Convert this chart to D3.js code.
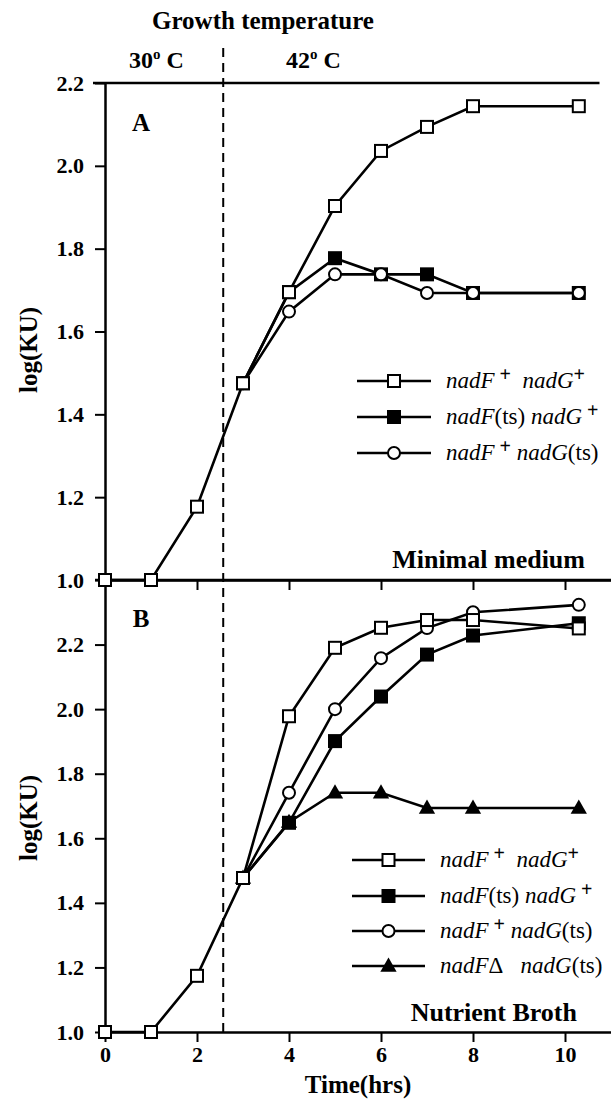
<!DOCTYPE html>
<html>
<head>
<meta charset="utf-8">
<script src="https://cdn.jsdelivr.net/npm/d3@7"></script>
<style>
  body { margin: 0; background: #fff; }
  text { font-family: "Liberation Serif", "Times New Roman", serif; fill: #000; }
</style>
</head>
<body>
<script>
    //Global variables
        const width = 611;
        const height = 1101;

    //Data: times and log(KU) values
        const hoursAll = [0, 1, 2, 3, 4, 5, 6, 7, 8, 10.3];
        const hoursLate = [3, 4, 5, 6, 7, 8, 10.3];

        //Panel A, minimal medium
        const minWild = [1.0, 1.0, 1.177, 1.475, 1.695, 1.903, 2.036, 2.094, 2.144, 2.144];
        const minFts = [1.475, 1.695, 1.777, 1.738, 1.738, 1.693, 1.693];
        const minGts = [1.475, 1.648, 1.738, 1.738, 1.693, 1.693, 1.693];

        //Panel B, nutrient broth
        const brothWild = [1.0, 1.0, 1.174, 1.477, 1.978, 2.19, 2.252, 2.276, 2.276, 2.25];
        const brothFts = [1.477, 1.648, 1.901, 2.039, 2.169, 2.228, 2.266];
        const brothGts = [1.477, 1.741, 2.0, 2.158, 2.251, 2.30, 2.323];
        const brothFdel = [1.477, 1.65, 1.741, 1.741, 1.694, 1.694, 1.694];

        const xTicks = [0, 2, 4, 6, 8, 10];
        const yTicksA = [1.0, 1.2, 1.4, 1.6, 1.8, 2.0, 2.2];
        const yTicksB = [1.0, 1.2, 1.4, 1.6, 1.8, 2.0, 2.2];
        const shiftTime = 2.57;

    //Scales
        const xScale = d3.scaleLinear().domain([0, 11]).range([105, 611]);
        const yA = d3.scaleLinear().domain([1.0, 2.2]).range([580, 83]);
        const yB = d3.scaleLinear().domain([1.0, 2.4]).range([1032, 580]);

    //SVG element
        const svg = d3.select("body")
                    .append("svg")
                    .attr("width", width)
                    .attr("height", height);

    //Header
        svg.append("text")
            .attr("x", 263).attr("y", 29)
            .attr("text-anchor", "middle")
            .attr("font-size", 25).attr("font-weight", "bold")
            .text("Growth temperature");

        const tempLabel = (x, deg) => {
            const t = svg.append("text")
                .attr("x", x).attr("y", 68)
                .attr("font-size", 24).attr("font-weight", "bold");
            t.append("tspan").text(deg);
            t.append("tspan").attr("dy", -9).attr("font-size", 15).text("o");
            t.append("tspan").attr("dy", 9).text(" C");
        };
        tempLabel(129, "30");
        tempLabel(286, "42");

    //Frame lines
        svg.append("line")
            .attr("x1", xScale(0) - 12).attr("x2", xScale(10.75))
            .attr("y1", yA(2.2)).attr("y2", yA(2.2))
            .attr("stroke", "#000").attr("stroke-width", 2.5);

        svg.append("line")
            .attr("x1", xScale(0) - 10).attr("x2", xScale(11))
            .attr("y1", yA(1.0)).attr("y2", yA(1.0))
            .attr("stroke", "#000").attr("stroke-width", 2.5);

    //Axes
        const styleAxis = g => {
            g.selectAll("path").attr("stroke-width", 2.5);
            g.selectAll("line").attr("stroke-width", 2);
            g.selectAll("text")
                .attr("font-size", 22)
                .attr("font-weight", "bold")
                .attr("font-family", "Liberation Serif, serif");
        };

        svg.append("g")
            .attr("transform", "translate(" + xScale(0) + ",0)")
            .call(d3.axisLeft(yA).tickValues(yTicksA).tickSize(10).tickSizeOuter(0)
                    .tickPadding(11).tickFormat(d3.format(".1f")))
            .call(styleAxis);

        svg.append("g")
            .attr("transform", "translate(" + xScale(0) + ",0)")
            .call(d3.axisLeft(yB).tickValues(yTicksB).tickSize(10).tickSizeOuter(0)
                    .tickPadding(11).tickFormat(d3.format(".1f")))
            .call(styleAxis);

        //Ticks on the panel boundary point down into panel B
        svg.append("g")
            .attr("transform", "translate(0," + yA(1.0) + ")")
            .call(d3.axisBottom(xScale).tickValues(xTicks.slice(1)).tickSize(10)
                    .tickSizeOuter(0).tickFormat(""))
            .call(styleAxis);

        svg.append("g")
            .attr("transform", "translate(0," + yB(1.0) + ")")
            .call(d3.axisBottom(xScale).tickValues(xTicks).tickSize(10)
                    .tickSizeOuter(0).tickPadding(4))
            .call(styleAxis);

    //Dashed temperature shift line
        svg.append("line")
            .attr("x1", xScale(shiftTime)).attr("x2", xScale(shiftTime))
            .attr("y1", 48).attr("y2", yB(1.0))
            .attr("stroke", "#000").attr("stroke-width", 2)
            .attr("stroke-dasharray", "9,6");

    //Axis titles and panel labels
        const boldText = (x, y, txt, size, anchor) => svg.append("text")
            .attr("x", x).attr("y", y)
            .attr("text-anchor", anchor)
            .attr("font-size", size).attr("font-weight", "bold")
            .text(txt);

        boldText(xScale(5.5), 1093, "Time(hrs)", 25, "middle");
        boldText(141, 131, "A", 25, "middle");
        boldText(141, 627, "B", 25, "middle");
        boldText(585, 568, "Minimal medium", 26, "end");
        boldText(577, 1021, "Nutrient Broth", 26, "end");

        [350, 818].forEach(cy => {
            svg.append("text")
                .attr("transform", "translate(37," + cy + ") rotate(-90)")
                .attr("text-anchor", "middle")
                .attr("font-size", 25).attr("font-weight", "bold")
                .text("log(KU)");
        });

    //Markers
        const drawMarker = (g, kind, cx, cy) => {
            if (kind === "square" || kind === "filled") {
                g.append("rect")
                    .attr("x", cx - 6).attr("y", cy - 6)
                    .attr("width", 12).attr("height", 12)
                    .attr("fill", kind === "filled" ? "#000" : "#fff")
                    .attr("stroke", "#000").attr("stroke-width", 2);
            } else if (kind === "circle") {
                g.append("circle")
                    .attr("cx", cx).attr("cy", cy).attr("r", 6)
                    .attr("fill", "#fff")
                    .attr("stroke", "#000").attr("stroke-width", 2);
            } else {
                g.append("path")
                    .attr("d", d3.symbol(d3.symbolTriangle, 115)())
                    .attr("transform", "translate(" + cx + "," + (cy + 1) + ")")
                    .attr("fill", "#000");
            }
        };

    //Series
        const drawSeries = (hours, values, yScale, kind) => {
            const pts = hours.map((h, i) => [xScale(h), yScale(values[i])]);
            const g = svg.append("g");
            g.append("path")
                .attr("d", d3.line()(pts))
                .attr("fill", "none")
                .attr("stroke", "#000").attr("stroke-width", 2.6);
            pts.forEach(p => drawMarker(g, kind, p[0], p[1]));
        };

        drawSeries(hoursLate, minFts, yA, "filled");
        drawSeries(hoursLate, minGts, yA, "circle");
        drawSeries(hoursAll, minWild, yA, "square");

        drawSeries(hoursLate, brothFdel, yB, "triangle");
        drawSeries(hoursLate, brothFts, yB, "filled");
        drawSeries(hoursLate, brothGts, yB, "circle");
        drawSeries(hoursAll, brothWild, yB, "square");

    //Legends
        const legendLabels = {
            wild: [["nadF", "i"], [" +", "sup"], ["  nadG", "i"], ["+", "sup"]],
            fts: [["nadF", "i"], ["(ts) ", "n"], ["nadG", "i"], [" +", "sup"]],
            gts: [["nadF", "i"], [" +", "sup"], [" nadG", "i"], ["(ts)", "n"]],
            fdel: [["nadF", "i"], ["\u0394", "n"], ["   nadG", "i"], ["(ts)", "n"]]
        };

        const drawLegend = (rows, x0, x1, tx) => {
            rows.forEach(([key, kind, y]) => {
                const g = svg.append("g");
                g.append("line")
                    .attr("x1", x0).attr("x2", x1)
                    .attr("y1", y).attr("y2", y)
                    .attr("stroke", "#000").attr("stroke-width", 2.6);
                drawMarker(g, kind, (x0 + x1) / 2, y);

                const t = g.append("text")
                    .attr("x", tx).attr("y", y + 7)
                    .attr("font-size", 23)
                    .attr("xml:space", "preserve")
                    .style("white-space", "pre");
                let raised = false;
                legendLabels[key].forEach(([s, style]) => {
                    const span = t.append("tspan").text(s);
                    if (style === "i") span.attr("font-style", "italic");
                    if (style === "sup") {
                        span.attr("font-size", 20).attr("font-weight", "bold").attr("dy", -7);
                        raised = true;
                    } else if (raised) {
                        span.attr("dy", 7);
                        raised = false;
                    }
                });
            });
        };

        drawLegend([["wild", "square", 381], ["fts", "filled", 417], ["gts", "circle", 453]],
                   357, 431, 446);
        drawLegend([["wild", "square", 860], ["fts", "filled", 896],
                    ["gts", "circle", 931], ["fdel", "triangle", 966]],
                   352, 425, 440);
</script>
</body>
</html>
